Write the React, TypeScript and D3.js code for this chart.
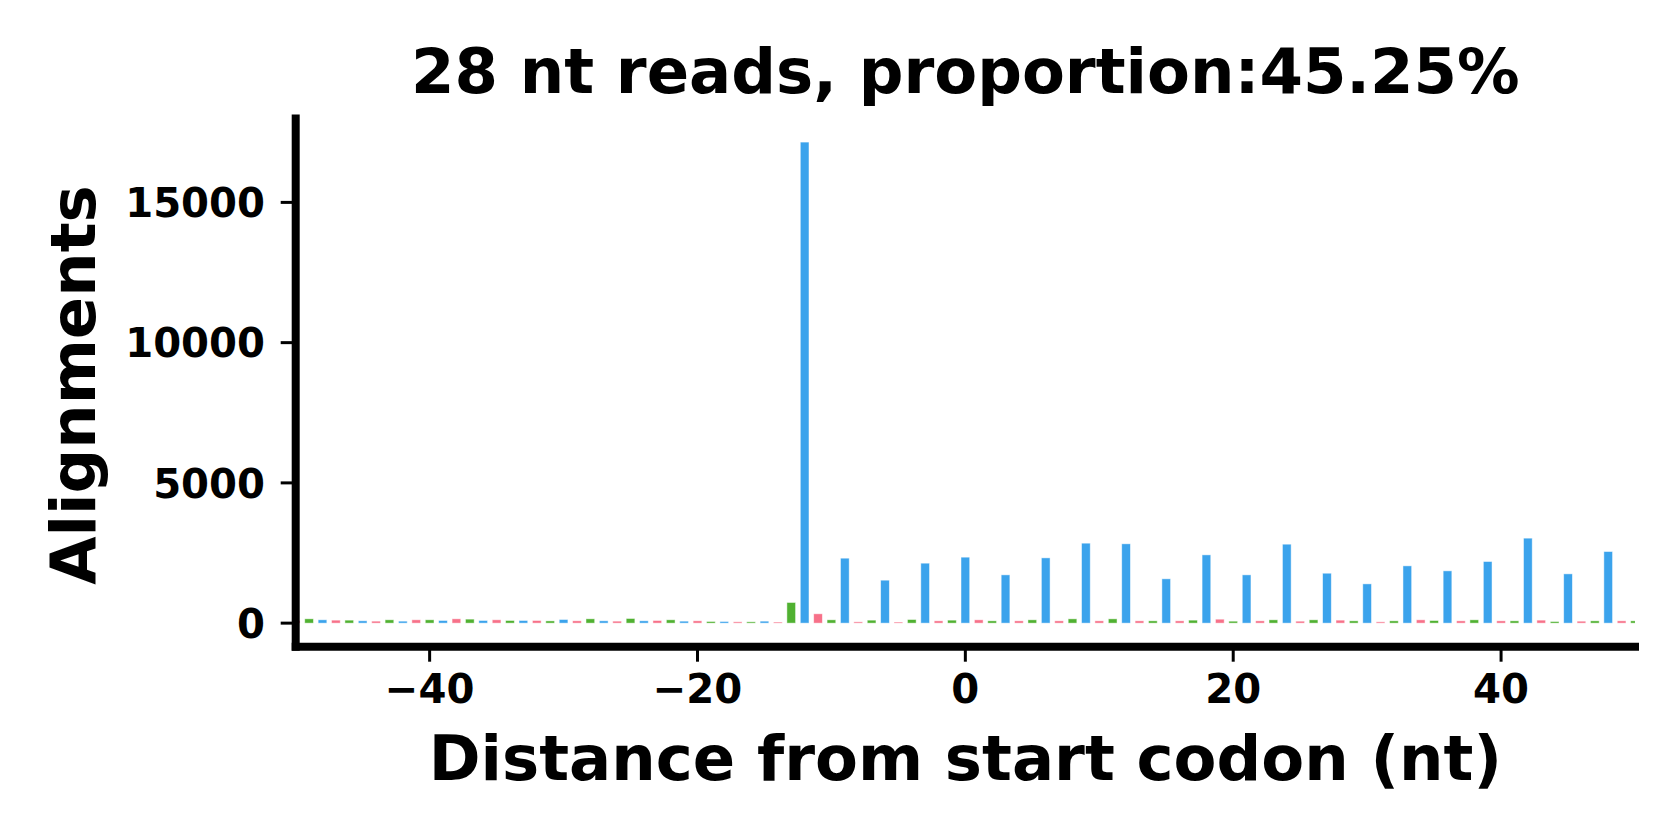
import React from "react";
import * as d3 from "d3";

const titleText = "28 nt reads, proportion:45.25%";
const xLabel = "Distance from start codon (nt)";
const yLabel = "Alignments";

const firstPosition = -50;
// alignments per position, from -50 to 50
const alignments = [
  90, 154, 119, 107, 107, 83, 71, 119, 71, 119,
  119, 95, 154, 143, 95, 119, 95, 95, 95, 80,
  130, 83, 154, 83, 71, 166, 83, 95, 119, 71,
  83, 59, 59, 47, 47, 71, 40, 737, 17150, 333,
  118, 2316, 46, 107, 1532, 40, 129, 2138, 82, 107,
  2352, 118, 82, 1721, 82, 118, 2327, 82, 153, 2851,
  82, 153, 2828, 82, 82, 1580, 82, 107, 2434, 141,
  70, 1721, 82, 118, 2815, 70, 118, 1780, 107, 82,
  1400, 46, 82, 2042, 118, 94, 1864, 82, 118, 2197,
  82, 82, 3030, 107, 58, 1757, 70, 82, 2553, 82,
  82,
];
// frame colours: position mod 3 = 0, 1, 2
const frameColors = ["#3ba3ec", "#f77189", "#50b131"];
const xTicks = [-40, -20, 0, 20, 40];
const yTicks = [0, 5000, 10000, 15000];

export default function App() {
  const W = 1680;
  const H = 840;
  const left = 295.7;
  const right = 1635;
  const top = 114.6;
  const bottom = 646.7;
  const font = "'DejaVu Sans', sans-serif";
  const tickFs = 40.2;
  const labelFs = 62.5;

  const x = d3.scaleLinear().domain([-50, 50]).range([left, right]);
  const y = d3.scaleLinear().domain([-840, 18130]).range([bottom, top]);
  const unit = x(1) - x(0);
  const barW = unit * 0.65;

  const bars = alignments.map((v, i) => {
    const pos = firstPosition + i;
    const frame = ((pos % 3) + 3) % 3;
    return { pos, v, color: frameColors[frame] };
  });

  const spineW = 8;

  return (
    <svg
      width={W}
      height={H}
      style={{ position: "absolute", left: 0, top: 0, background: "#fff" }}
      fontFamily={font}
      fontWeight="bold"
    >
      <defs>
        <clipPath id="plotClip">
          <rect x={left} y={top - 10} width={right - left} height={bottom - top + 10} />
        </clipPath>
      </defs>
      <rect x={0} y={0} width={W} height={H} fill="#fff" />
      <g clipPath="url(#plotClip)">
        {bars.map((b) => (
          <rect
            key={b.pos}
            x={x(b.pos) - barW / 2}
            y={y(b.v)}
            width={barW}
            height={y(0) - y(b.v)}
            fill={b.color}
            stroke="#ffffff"
            strokeWidth={0.8}
            strokeOpacity={0.6}
          />
        ))}
      </g>
      {/* spines */}
      <line
        x1={left}
        x2={left}
        y1={top + spineW / 2}
        y2={bottom}
        stroke="#000"
        strokeWidth={spineW}
        strokeLinecap="square"
      />
      <line
        x1={left}
        x2={right}
        y1={bottom}
        y2={bottom}
        stroke="#000"
        strokeWidth={spineW}
        strokeLinecap="square"
      />
      {/* y ticks */}
      {yTicks.map((t) => (
        <g key={"y" + t}>
          <line
            x1={left - spineW / 2 - 11}
            x2={left}
            y1={y(t)}
            y2={y(t)}
            stroke="#000"
            strokeWidth={3}
          />
          <text
            x={265}
            y={y(t) + tickFs * 0.3645}
            textAnchor="end"
            fontSize={tickFs}
            fill="#000"
          >
            {t}
          </text>
        </g>
      ))}
      {/* x ticks */}
      {xTicks.map((t) => (
        <g key={"x" + t}>
          <line
            x1={x(t)}
            x2={x(t)}
            y1={bottom}
            y2={bottom + spineW / 2 + 11}
            stroke="#000"
            strokeWidth={3}
          />
          <text
            x={x(t)}
            y={703}
            textAnchor="middle"
            fontSize={tickFs}
            fill="#000"
          >
            {t < 0 ? "\u2212" + Math.abs(t) : String(t)}
          </text>
        </g>
      ))}
      {/* title */}
      <text
        x={(left + right) / 2}
        y={93}
        textAnchor="middle"
        fontSize={labelFs}
        fill="#000"
      >
        {titleText}
      </text>
      {/* x label */}
      <text
        x={(left + right) / 2}
        y={780}
        textAnchor="middle"
        fontSize={labelFs}
        fill="#000"
      >
        {xLabel}
      </text>
      {/* y label */}
      <text
        transform={`translate(95, 385) rotate(-90)`}
        textAnchor="middle"
        fontSize={labelFs}
        fill="#000"
      >
        {yLabel}
      </text>
    </svg>
  );
}
